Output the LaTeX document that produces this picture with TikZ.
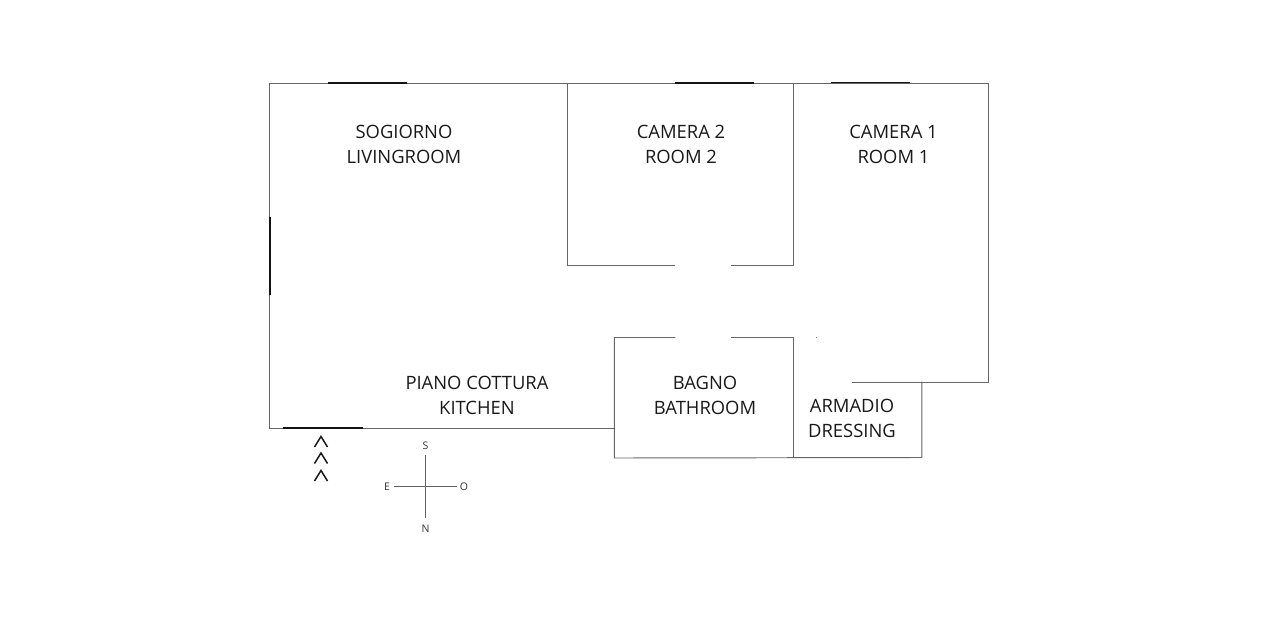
\documentclass[tikz,border=0pt]{standalone}
\usepackage{fontspec}
\setmainfont{Open Sans}
\tikzset{
  wall/.style={draw=black!60,line width=0.95pt,line cap=rect,line join=miter},
  windowbar/.style={draw=black!92,line width=1.9pt},
  chev/.style={draw=black!90,line width=1.5pt,line join=miter},
  compassline/.style={draw=black!62,line width=0.85pt},
  roomlabel/.style={align=center,inner sep=0pt,text=black!90,font=\fontsize{18.4}{24.8}\selectfont},
  dirlabel/.style={inner sep=0pt,text=black!80,font=\fontsize{10.5}{12}\selectfont}
}
\begin{document}
\begin{tikzpicture}[x=1pt,y=-1pt]
\useasboundingbox (0,0) rectangle (1280,640);
% walls
\draw[wall] (269.8,428) -- (269.8,83) -- (988.7,83) -- (988.7,382) -- (852,382);
\draw[wall] (269.8,428) -- (614,428);
\draw[wall] (567.8,83) -- (567.8,265.5) -- (675,265.5);
\draw[wall] (731,265.5) -- (793.8,265.5) -- (793.8,83);
\draw[wall] (675,337.5) -- (614.3,337.5) -- (614.3,458) -- (921.8,457.5) -- (921.8,382);
\draw[wall] (731,337.5) -- (793.8,337.5) -- (793.8,458);
% windows and door
\draw[windowbar] (328,83) -- (407,83);
\draw[windowbar] (675,83) -- (754,83);
\draw[windowbar] (831,82.5) -- (910,82.5);
\draw[windowbar] (270.2,217) -- (270.2,295);
\draw[windowbar] (283,428) -- (363,428);
% entrance chevrons
\draw[chev] (314.5,447) -- (321,436.5) -- (327.5,447);
\draw[chev] (314.5,463.5) -- (321,453) -- (327.5,463.5);
\draw[chev] (314.5,481) -- (321,470.5) -- (327.5,481);
% speck
\fill[black!50] (815.5,336.5) rectangle (816.5,337.5);
% labels
\node[roomlabel] (living) at (404,144.3) {SOGIORNO\\LIVINGROOM};
\node[roomlabel] (room2) at (681,144.3) {CAMERA 2\\ROOM 2};
\node[roomlabel] (room1) at (893.5,144.3) {CAMERA 1\\ROOM 1};
\node[roomlabel] (kitchen) at (477,395.3) {PIANO COTTURA\\KITCHEN};
\node[roomlabel] (bath) at (705,395.3) {BAGNO\\BATHROOM};
\node[roomlabel] (dress) at (852,418.3) {ARMADIO\\DRESSING};
% compass
\node[dirlabel] (south) at (425.5,445.5) {S};
\node[dirlabel] (north) at (425.5,528.5) {N};
\node[dirlabel] (east) at (387,486.5) {E};
\node[dirlabel] (west) at (464,486.5) {O};
\draw[compassline] (425.5,455) -- (425.5,518);
\draw[compassline] (394,486) -- (457,486);
\end{tikzpicture}
\end{document}
